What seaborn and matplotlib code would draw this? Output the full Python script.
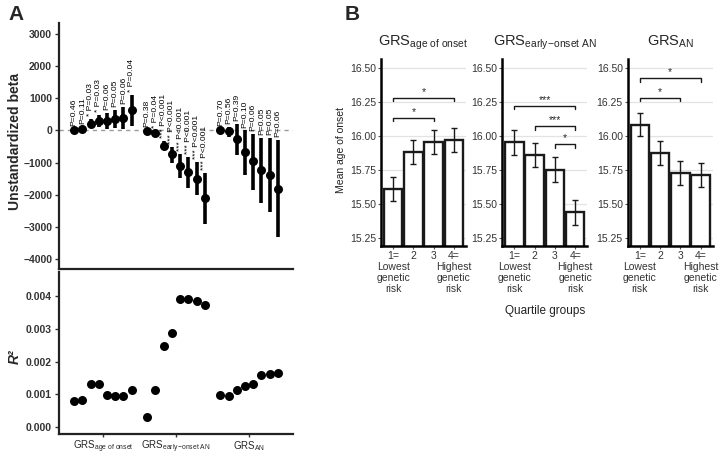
import numpy as np
import pandas as pd
import matplotlib
matplotlib.use("Agg")
import matplotlib.pyplot as plt
import seaborn as sns

# ---------------- data ----------------
grs_labels = [r"GRS$_{\mathrm{age\ of\ onset}}$",
              r"GRS$_{\mathrm{early\!-\!onset\ AN}}$",
              r"GRS$_{\mathrm{AN}}$"]

beta_age = [10, 45, 207, 285, 285, 340, 385, 625]
lo_age = [-40, -10, 60, 100, 30, 60, 40, 130]
hi_age = [60, 100, 360, 480, 530, 630, 730, 1090]
p_age = ["P=0.46", "P=0.11", "* P=0.03", "* P=0.03", "P=0.06", "P=0.05", "P=0.06", "* P=0.04"]

beta_early = [-15, -65, -490, -745, -1110, -1295, -1500, -2110]
lo_early = [-60, -120, -620, -1010, -1470, -1780, -2020, -2920]
hi_early = [30, -10, -340, -520, -745, -830, -985, -1325]
p_early = ["P=0.38", "* P=0.04", "*** P<0.001", "*** P<0.001", "*** P<0.001",
           "*** P<0.001", "*** P<0.001", "*** P<0.001"]

beta_an = [5, -20, -280, -670, -950, -1240, -1400, -1810]
lo_an = [-40, -190, -780, -1400, -1840, -2260, -2540, -3310]
hi_an = [50, 100, 200, 0, -100, -230, -230, -310]
p_an = ["P=0.70", "P=0.56", "P=0.39", "P=0.10", "P=0.06", "P=0.05", "P=0.05", "P=0.06"]

r2_age = [0.00079, 0.00083, 0.00132, 0.00132, 0.00097, 0.00094, 0.00094, 0.00113]
r2_early = [0.00031, 0.00113, 0.00248, 0.00289, 0.00391, 0.00392, 0.00385, 0.00374]
r2_an = [0.00098, 0.00095, 0.00114, 0.00127, 0.00133, 0.00160, 0.00163, 0.00167]

quartiles = ["1=\nLowest\ngenetic\nrisk", "2", "3", "4=\nHighest\ngenetic\nrisk"]
mean_age = [15.608, 15.876, 15.952, 15.966]
err_age = [0.089, 0.088, 0.089, 0.088]
mean_early = [15.950, 15.859, 15.750, 15.435]
err_early = [0.090, 0.089, 0.091, 0.090]
mean_an = [16.081, 15.871, 15.725, 15.710]
err_an = [0.088, 0.089, 0.088, 0.089]

sig_age = [(0, 3, 16.276, "*"), (0, 2, 16.130, "*")]
sig_early = [(0, 3, 16.217, "***"), (1, 3, 16.069, "***"), (2, 3, 15.935, "*")]
sig_an = [(0, 3, 16.422, "*"), (0, 2, 16.278, "*")]

# ---------------- style ----------------
sns.set_style("ticks")
plt.rcParams["font.family"] = ["Liberation Sans", "DejaVu Sans"]
plt.rcParams["mathtext.fontset"] = "custom"
plt.rcParams["mathtext.rm"] = "Liberation Sans"
plt.rcParams["mathtext.it"] = "Liberation Sans:italic"
plt.rcParams["mathtext.bf"] = "Liberation Sans:bold"

fig = plt.figure(figsize=(7.19, 4.54), dpi=100)

# build long table for panel A
rows = []
for g, (b, lo, hi, p, r2) in enumerate([(beta_age, lo_age, hi_age, p_age, r2_age),
                                         (beta_early, lo_early, hi_early, p_early, r2_early),
                                         (beta_an, lo_an, hi_an, p_an, r2_an)]):
    for i in range(8):
        rows.append(dict(group=g, idx=i, x=g + 1 + (i - 3.5) * 0.1125,
                         beta=b[i], lo=lo[i], hi=hi[i], p=p[i], r2=r2[i]))
dfA = pd.DataFrame(rows)

axA1 = fig.add_axes([0.0821, 0.4075, 0.3254, 0.5418])
axA2 = fig.add_axes([0.0821, 0.0440, 0.3254, 0.3569])

axA1.axhline(0, color="#9a9a9a", lw=1.0, ls=(0, (3, 3)), zorder=0)
axA1.vlines(dfA["x"], dfA["lo"], dfA["hi"], color="black", lw=2.6, zorder=2)
sns.scatterplot(data=dfA, x="x", y="beta", ax=axA1, color="black", s=42,
                edgecolor="black", linewidth=0, zorder=3, legend=False)
for _, r in dfA.iterrows():
    axA1.text(r["x"], r["hi"] + 90, r["p"], rotation=90, ha="center", va="bottom",
              fontsize=6.1, color="black")
axA1.set_xlim(0.4, 3.6)
axA1.set_ylim(-4310, 3340)
axA1.set_yticks(np.arange(-4000, 3001, 1000))
axA1.set_xticks([])
axA1.set_xlabel("")
axA1.set_ylabel("")

sns.scatterplot(data=dfA, x="x", y="r2", ax=axA2, color="black", s=42,
                edgecolor="black", linewidth=0, legend=False)
axA2.set_xlim(0.4, 3.6)
axA2.set_ylim(-0.00021, 0.00475)
axA2.set_yticks([0.000, 0.001, 0.002, 0.003, 0.004])
axA2.set_yticklabels(["0.000", "0.001", "0.002", "0.003", "0.004"])
axA2.set_xticks([1, 2, 3])
axA2.set_xticklabels(grs_labels, fontsize=7.0)
axA2.set_xlabel("")
axA2.set_ylabel("")

for ax in (axA1, axA2):
    for s in ("top", "right"):
        ax.spines[s].set_visible(False)
    for s in ("left", "bottom"):
        ax.spines[s].set_linewidth(1.6)
        ax.spines[s].set_color("#222222")
    ax.tick_params(axis="both", length=3, width=1, color="#333333", pad=2)
    for lab in ax.get_yticklabels():
        lab.set_fontsize(7.5)
        lab.set_fontweight("bold")
        lab.set_color("#333333")
axA2.tick_params(axis="x", pad=1, length=2.5)

fig.text(15 / 719, 1 - 141 / 454, "Unstandardized beta", rotation=90, ha="center",
         va="center", fontsize=10, fontweight="bold")
fig.text(15 / 719, 1 - 357 / 454, "R²", rotation=90, ha="center", va="center",
         fontsize=10, fontweight="bold", style="italic")
fig.text(8 / 719, 1 - 14 / 454, "A", fontsize=15, fontweight="bold", va="center")
fig.text(345 / 719, 1 - 14 / 454, "B", fontsize=15, fontweight="bold", va="center")

# ---------------- panel B ----------------
lefts = [0.5299, 0.6986, 0.8730]
titles = grs_labels
sets = [(mean_age, err_age, sig_age), (mean_early, err_early, sig_early),
        (mean_an, err_an, sig_an)]
for k in range(3):
    ax = fig.add_axes([lefts[k], 0.4581, 0.1182, 0.4119])
    means, errs, sigs = sets[k]
    dfB = pd.DataFrame({"q": quartiles, "m": means})
    ax.grid(True, color="#e3e3e3", lw=0.9)
    ax.set_axisbelow(True)
    sns.barplot(data=dfB, x="q", y="m", ax=ax, color="white", edgecolor="#1a1a1a",
                linewidth=1.7, width=0.92, errorbar=None, zorder=2)
    ax.errorbar(np.arange(4), means, yerr=errs, fmt="none", ecolor="#1a1a1a",
                elinewidth=1.0, capsize=2.5, capthick=1.0, zorder=3)
    for (i, j, y, lab) in sigs:
        ax.plot([i, i, j, j], [y - 0.025, y, y, y - 0.025], color="#1a1a1a", lw=1.0, zorder=3)
        ax.text((i + j) / 2, y + 0.008, lab, ha="center", va="bottom", fontsize=7.5)
    ax.set_xlim(-0.6, 3.6)
    ax.set_ylim(15.1875, 16.5625)
    ax.set_yticks([15.25, 15.50, 15.75, 16.00, 16.25, 16.50])
    ax.set_yticklabels(["15.25", "15.50", "15.75", "16.00", "16.25", "16.50"])
    ax.set_xlabel("")
    ax.set_ylabel("")
    ax.set_title(titles[k], fontsize=10.5, pad=10)
    for s in ("top", "right"):
        ax.spines[s].set_visible(False)
    for s in ("left", "bottom"):
        ax.spines[s].set_linewidth(1.8)
        ax.spines[s].set_color("black")
    ax.tick_params(axis="both", length=2, width=0.8, color="#555555", pad=1.5,
                   labelsize=7.5, labelcolor="#333333")
    for lab in ax.get_xticklabels():
        lab.set_linespacing(1.15)

fig.text(341 / 719, 1 - 150 / 454, "Mean age of onset", rotation=90, ha="center",
         va="center", fontsize=7.5, color="#222222")
fig.text(545 / 719, 1 - 311 / 454, "Quartile groups", ha="center", va="center",
         fontsize=8.5, color="#222222")

fig.savefig("out.png", dpi=100)
